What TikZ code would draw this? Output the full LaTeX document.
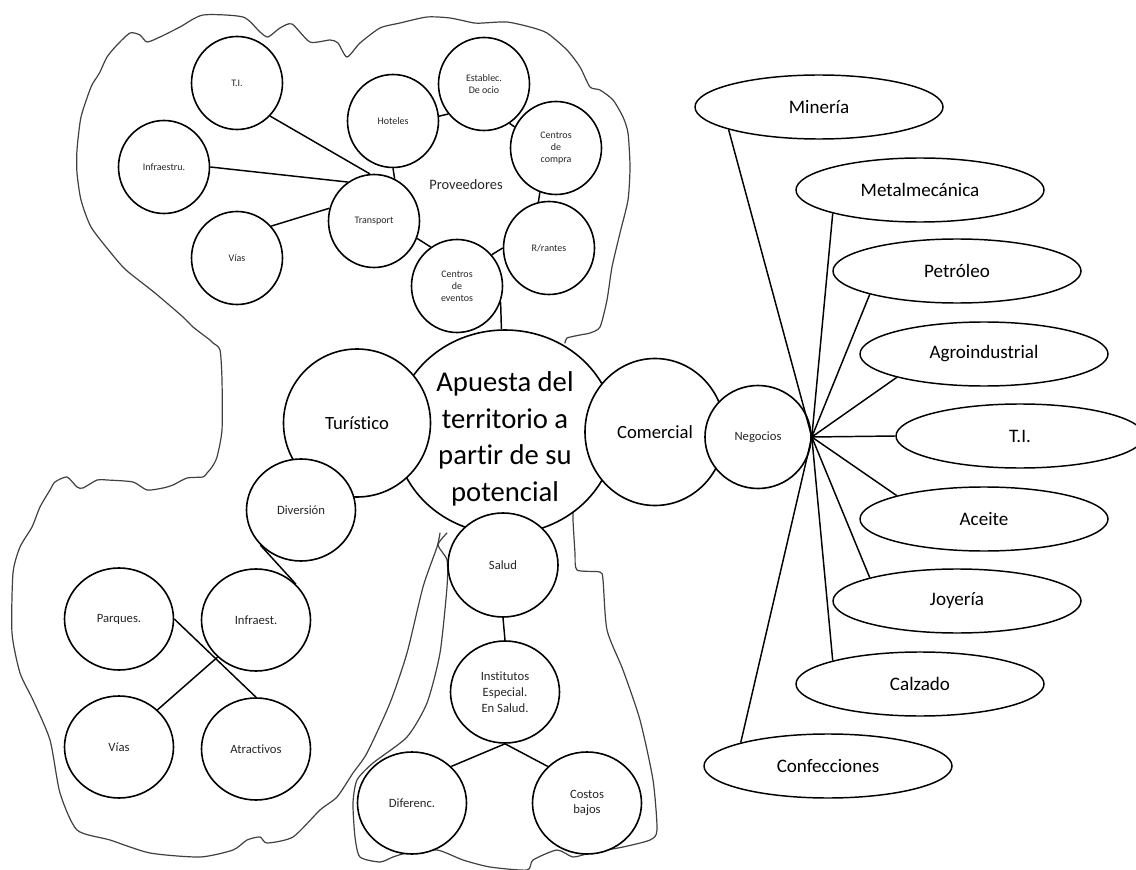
\documentclass[tikz,border=0pt]{standalone}
\usepackage{fontspec}
\setmainfont{Carlito}[Ligatures=NoCommon]
\usetikzlibrary{shapes.geometric}
\begin{document}
\begin{tikzpicture}[x=0.75pt,y=-0.75pt,
  bub/.style 2 args={ellipse, draw, fill=white, line width=1.2pt, inner sep=0pt,
    minimum width=#1*0.75pt, minimum height=#2*0.75pt, align=center},
  tiny/.style={bub={91}{93}, font=\fontsize{7.5}{9}\selectfont, text=black!85},
  mid/.style={bub={109}{102}, font=\fontsize{9.5}{11.8}\selectfont, text=black!85},
  sector/.style={bub={248}{64}, line width=1.1pt, font=\fontsize{14.3}{17}\selectfont},
  link/.style={line width=1.1pt},
  coast/.style={line width=0.9pt, black!75, line join=round, line cap=round}
]
\useasboundingbox (0,0) rectangle (1136,870);

% hand-drawn region outlines
\draw[coast] plot[smooth, tension=0.4] coordinates {
 (565,343) (567,338) (580,335) (590,333) (600,327) (607,300) (612,267) (620,233)
 (628,200) (630,167) (628,133) (623,117) (613,100) (600,90) (590,87) (580,67)
 (567,50) (547,33) (530,27) (507,22) (483,23) (474,23) (450,18) (427,17) (400,23)
 (380,28) (360,43) (347,57) (338,43) (330,40) (310,42) (292,24) (280,28) (268,37)
 (260,32) (243,17) (203,15) (180,27) (160,37) (147,42) (140,35) (130,33) (117,45)
 (107,57) (100,72) (97,77) (91,87) (81,117) (77,150) (77,173) (81,200) (91,227)
 (111,253) (126,270) (155,293) (183,317) (193,327) (210,340) (213,343) (220,350)
 (222,380) (222,430) (217,457) (212,467) (207,473) (203,477) (187,478) (173,485)
 (163,488) (147,490) (133,482) (107,480) (97,480) (83,488) (77,487) (67,477)
 (55,482) (50,490) (40,507) (32,527) (20,547) (13,573) (12,633) (20,673) (33,700)
 (50,740) (60,793) (77,830) (110,840) (150,853) (200,857) (233,850) (247,840)
 (260,837) (267,843) (293,837) (320,810) (337,797) (353,773) (367,753) (390,703)
 (407,653) (423,587) (437,547) (440,533)};
\draw[coast] plot[smooth, tension=0.4] coordinates {
 (447,533) (438,545) (447,560) (447,587) (440,653) (427,703) (407,737) (373,763)
 (357,780) (353,803) (355,837) (360,857) (380,862) (393,857) (407,853) (437,850)
 (463,860) (490,867) (527,870) (533,860) (557,850) (573,857) (590,853) (623,847)
 (650,840) (657,830) (653,780) (640,720) (623,670) (607,630) (603,580) (600,572)
 (577,570) (575,553) (573,520) (573,509)};

% core and its branches
\node[bub={220}{204}] (cen) at (505,432) {};
\node[font=\fontsize{21.5}{27.5}\selectfont, align=center, inner sep=0pt] (cenlbl) at (505,439)
  {Apuesta del\\territorio a\\partir de su\\potencial};
\node[bub={147}{148}, font=\fontsize{14}{17}\selectfont] (tur) at (357,423) {Turístico};
\node[bub={140}{147}, font=\fontsize{14}{17}\selectfont] (com) at (655,432) {Comercial};
\node[bub={106}{103}, font=\fontsize{9.5}{11.8}\selectfont, text=black!85] (neg) at (758,437) {Negocios};
\node[mid] (div) at (301,510) {Diversión};
\node[bub={110}{104}, font=\fontsize{9.5}{11.8}\selectfont, text=black!85] (sal) at (503,565) {Salud};

% providers cluster
\node[tiny] (ti)  at (237,83)  {T.I.};
\node[tiny] (ifr) at (164,167) {Infraestru.};
\node[tiny] (via) at (237,258) {Vías};
\node[tiny] (trn) at (374,221) {Transport};
\node[tiny] (hot) at (393,121) {Hoteles};
\node[tiny] (est) at (484,84)  {Establec.\\De ocio};
\node[tiny] (cdc) at (556,148) {Centros\\de\\compra};
\node[tiny] (rra) at (549,248) {R/rantes};
\node[tiny] (cde) at (457,286) {Centros\\de\\eventos};
\node[font=\fontsize{10.8}{13}\selectfont, text=black!85] (prov) at (466,185) {Proveedores};

% leisure cluster
\node[mid] (par) at (119,619) {Parques.};
\node[mid] (inf) at (256,620) {Infraest.};
\node[mid] (vi2) at (119,747) {Vías};
\node[mid] (atr) at (256,749) {Atractivos};

% health cluster
\node[mid] (ins) at (505,692) {Institutos\\Especial.\\En Salud.};
\node[mid] (dif) at (412,803) {Diferenc.};
\node[mid] (cos) at (587,803) {Costos\\bajos};

% business sectors
\node[sector] (min) at (819,107) {Minería};
\node[sector] (met) at (920,190) {Metalmecánica};
\node[sector] (pet) at (957,271) {Petróleo};
\node[sector] (agr) at (984,354) {Agroindustrial};
\node[sector] (tic) at (1020,436) {T.I.};
\node[sector] (ace) at (984,519) {Aceite};
\node[sector] (joy) at (957,601) {Joyería};
\node[sector] (cal) at (920,684) {Calzado};
\node[sector] (con) at (828,766) {Confecciones};

% connectors
\draw[link] (ti.-45) -- (trn.95);
\draw[link] (ifr.0) -- (trn.124);
\draw[link] (via.43) -- (trn.164);
\draw[link] (hot.-90) -- (trn.64);
\draw[link] (hot.6) -- (est.-140);
\draw[link] (est.-57) -- (cdc.153);
\draw[link] (cdc.-110) -- (rra.103);
\draw[link] (rra.180) -- (cde.42);
\draw[link] (trn.-22) -- (cde.124);
\draw[link] (cde.-20) -- (cen.92);
\draw[link] (div.221) -- (inf.42);
\draw[link] (par.0) -- (atr.90);
\draw[link] (vi2.44) -- (inf.224);
\draw[link] (sal.south) -- (ins.north);
\draw[link] (ins.south) -- (dif.43);
\draw[link] (ins.south) -- (cos.137);
\foreach \s/\a in {min/194, met/195, pet/195, agr/195, tic/180, ace/165, joy/165, cal/165, con/165}
  \draw[link] (neg.east) -- (\s.\a);
\end{tikzpicture}
\end{document}
